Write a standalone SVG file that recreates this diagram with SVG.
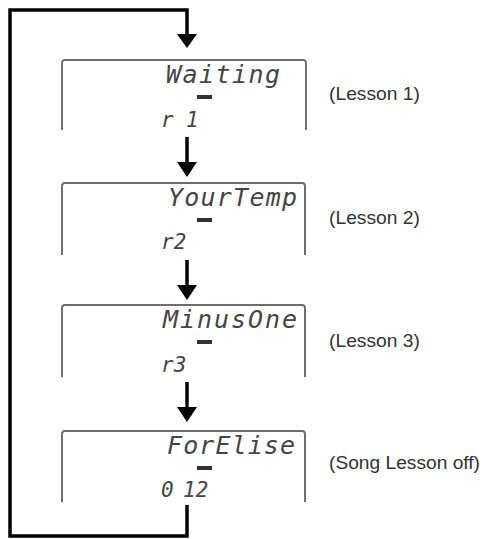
<svg xmlns="http://www.w3.org/2000/svg" width="484" height="539" viewBox="0 0 484 539">
<style>
.box{fill:none;stroke:#6e6e6e;stroke-width:2}
.lcd{font-family:"DejaVu Sans Mono",monospace;font-style:italic;font-size:25px;fill:#454545}
.lcd2{font-family:"DejaVu Sans Mono",monospace;font-style:italic;font-size:21px;fill:#454545}
.lbl{font-family:"Liberation Sans",Arial,sans-serif;font-size:18.5px;fill:#333}
.ind{fill:#333}
.ln{fill:none;stroke:#000;stroke-width:3.5}
.ah{fill:#000}
</style>
<g id="connectors">
<path class="ln" d="M187,505 V536 H10 V10 H187 V36"/>
<polygon class="ah" points="177,34 197,34 187,48"/>
<line class="ln" x1="187" y1="137" x2="187" y2="164"/>
<polygon class="ah" points="177,162 197,162 187,177"/>
<line class="ln" x1="187" y1="260" x2="187" y2="287"/>
<polygon class="ah" points="177,285 197,285 187,300"/>
<line class="ln" x1="187" y1="382" x2="187" y2="409"/>
<polygon class="ah" points="177,407 197,407 187,422"/>
</g>
<g id="lesson1">
<path class="box" d="M62,130 V63 Q62,60 65,60 H303 Q306,60 306,63 V130"/>
<text class="lcd" x="166" y="83" textLength="114" lengthAdjust="spacing">Waiting</text>
<rect class="ind" x="197" y="95" width="15" height="4"/>
<text class="lcd2" x="161" y="127">r</text>
<text class="lcd2" x="186" y="127">1</text>
<text class="lbl" x="329" y="100" textLength="91" lengthAdjust="spacingAndGlyphs">(Lesson 1)</text>
</g>
<g id="lesson2">
<path class="box" d="M62,255 V186 Q62,183 65,183 H302 Q305,183 305,186 V255"/>
<text class="lcd" x="168" y="206" textLength="129" lengthAdjust="spacing">YourTemp</text>
<rect class="ind" x="197" y="218" width="15" height="4"/>
<text class="lcd2" x="161" y="249">r2</text>
<text class="lbl" x="329" y="224" textLength="91" lengthAdjust="spacingAndGlyphs">(Lesson 2)</text>
</g>
<g id="lesson3">
<path class="box" d="M62,377 V308 Q62,305 65,305 H302 Q305,305 305,308 V377"/>
<text class="lcd" x="163" y="328" textLength="134" lengthAdjust="spacing">MinusOne</text>
<rect class="ind" x="197" y="340" width="15" height="4"/>
<text class="lcd2" x="161" y="372">r3</text>
<text class="lbl" x="329" y="347" textLength="91" lengthAdjust="spacingAndGlyphs">(Lesson 3)</text>
</g>
<g id="songoff">
<path class="box" d="M62,502 V434 Q62,431 65,431 H302 Q305,431 305,434 V502"/>
<text class="lcd" x="167" y="454" textLength="128" lengthAdjust="spacing">ForElise</text>
<rect class="ind" x="197" y="466" width="15" height="4"/>
<text class="lcd2" x="161" y="497">0</text>
<text class="lcd2" x="183" y="497">12</text>
<text class="lbl" x="329" y="469" textLength="151" lengthAdjust="spacingAndGlyphs">(Song Lesson off)</text>
</g>
</svg>
